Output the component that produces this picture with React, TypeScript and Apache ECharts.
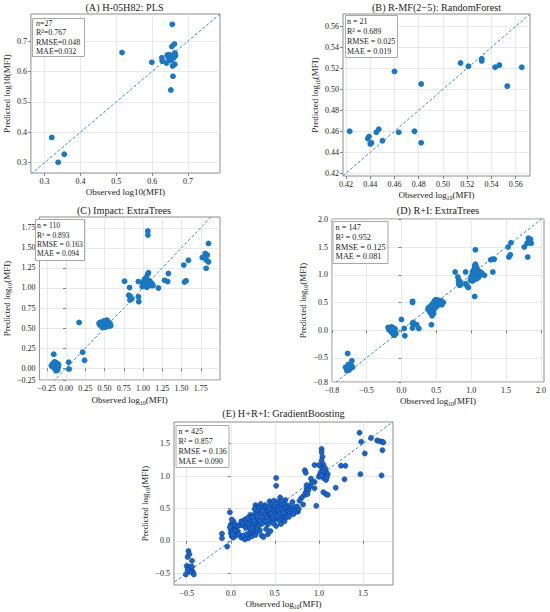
import React, { useEffect, useRef } from "react";
import * as echarts from "echarts";

// ---------- DATA ----------
const A_POINTS: number[][] = [
  [0.320, 0.383], [0.338, 0.301], [0.355, 0.328], [0.516, 0.662], [0.599, 0.630], [0.656, 0.755],
  [0.662, 0.690], [0.655, 0.682], [0.627, 0.645], [0.628, 0.634], [0.642, 0.654], [0.648, 0.655],
  [0.640, 0.628], [0.653, 0.643], [0.651, 0.636], [0.659, 0.654], [0.663, 0.661], [0.660, 0.645],
  [0.657, 0.618], [0.663, 0.624], [0.658, 0.584], [0.652, 0.539], [0.665, 0.652], [0.656, 0.650],
  [0.645, 0.646], [0.664, 0.657], [0.655, 0.640],
];
const B_POINTS: number[][] = [
  [0.423, 0.460], [0.438, 0.453], [0.439, 0.455], [0.440, 0.448], [0.441, 0.449], [0.445, 0.459],
  [0.447, 0.462], [0.450, 0.451], [0.4635, 0.459], [0.4765, 0.460], [0.482, 0.449], [0.482, 0.505],
  [0.460, 0.517], [0.5145, 0.525], [0.521, 0.522], [0.532, 0.529], [0.532, 0.527], [0.543, 0.521],
  [0.5465, 0.523], [0.553, 0.503], [0.565, 0.521],
];
const C_POINTS: number[][] = [
  [1.063, 1.71], [1.063, 1.66], [1.85, 1.555], [1.81, 1.43], [1.835, 1.41], [1.77, 1.38], [1.82, 1.35],
  [1.85, 1.325], [1.82, 1.245], [1.53, 1.285], [1.59, 1.345], [1.54, 1.075], [1.56, 1.09], [1.33, 1.18],
  [1.28, 1.095], [1.32, 1.08], [1.20, 1.00], [1.13, 1.03], [0.76, 1.085], [0.825, 1.005], [0.815, 0.91],
  [0.833, 0.896], [0.854, 0.866], [0.83, 0.85], [0.94, 0.89], [0.945, 0.83], [0.94, 1.08], [0.17, 0.57],
  [0.215, 0.20], [0.24, 0.10], [0.035, 0.075], [0.04, -0.01], [-0.16, 0.175],
  // lower-left cluster
  [-0.18, 0.04], [-0.17, 0.03], [-0.16, 0.05], [-0.15, 0.02], [-0.14, 0.06], [-0.13, 0.04], [-0.12, 0.03],
  [-0.11, 0.05], [-0.15, 0.08], [-0.13, 0.07], [-0.12, 0.00], [-0.14, -0.01], [-0.16, 0.01], [-0.10, 0.02],
  [-0.11, -0.02], [-0.13, -0.03], [-0.17, 0.06], [-0.19, 0.03], [-0.12, 0.06], [-0.14, 0.02], [-0.10, 0.05],
  [-0.15, 0.00],
  // middle cluster
  [0.43, 0.56], [0.44, 0.54], [0.45, 0.57], [0.46, 0.53], [0.47, 0.55], [0.48, 0.52], [0.48, 0.57],
  [0.49, 0.54], [0.50, 0.56], [0.50, 0.53], [0.51, 0.58], [0.51, 0.55], [0.52, 0.52], [0.52, 0.56],
  [0.53, 0.60], [0.53, 0.54], [0.54, 0.57], [0.55, 0.55], [0.56, 0.53], [0.57, 0.56], [0.58, 0.53],
  [0.46, 0.56], [0.47, 0.51], [0.49, 0.59], [0.54, 0.52], [0.55, 0.58], [0.44, 0.57], [0.50, 0.51],
  // upper cluster
  [1.00, 1.05], [1.01, 1.03], [1.02, 1.07], [1.03, 1.04], [1.03, 1.09], [1.04, 1.06], [1.04, 1.02],
  [1.05, 1.08], [1.05, 1.04], [1.06, 1.06], [1.06, 1.10], [1.07, 1.03], [1.07, 1.07], [1.08, 1.05],
  [1.08, 1.09], [1.09, 1.04], [1.10, 1.06], [1.11, 1.03], [1.02, 1.11], [1.06, 1.17], [1.07, 1.19],
  [1.04, 1.13], [1.12, 1.05], [0.99, 1.02], [1.05, 1.01], [1.09, 1.08], [1.01, 1.08],
];
const D_POINTS: number[][] = [
  // lower-left
  [-0.77, -0.42], [-0.80, -0.67], [-0.78, -0.70], [-0.77, -0.65], [-0.76, -0.68], [-0.75, -0.72],
  [-0.74, -0.66], [-0.73, -0.69], [-0.72, -0.63], [-0.71, -0.55], [-0.70, -0.67], [-0.78, -0.73],
  [-0.76, -0.62],
  // near zero
  [-0.19, 0.05], [-0.16, 0.03], [-0.14, 0.01], [-0.12, 0.04], [-0.15, -0.02], [-0.13, -0.05],
  [-0.10, -0.01], [-0.11, -0.08], [-0.17, 0.00], [-0.09, 0.02], [-0.12, -0.04], [-0.14, 0.06],
  [-0.08, -0.06], [-0.18, 0.02], [-0.11, 0.03], [-0.13, -0.02], [-0.10, -0.09], [-0.15, 0.04],
  [0.00, 0.195], [0.04, 0.03], [0.05, -0.10], [0.16, 0.50], [0.16, 0.52], [0.17, 0.14], [0.22, 0.10],
  [0.25, 0.03], [0.16, 0.04], [0.16, 0.12],
  // middle
  [0.43, 0.10], [0.38, 0.38], [0.40, 0.35], [0.41, 0.42], [0.42, 0.31], [0.43, 0.45], [0.44, 0.38],
  [0.45, 0.33], [0.45, 0.48], [0.46, 0.41], [0.47, 0.52], [0.48, 0.45], [0.48, 0.50], [0.49, 0.55],
  [0.50, 0.47], [0.50, 0.52], [0.51, 0.43], [0.52, 0.50], [0.53, 0.54], [0.54, 0.48], [0.55, 0.52],
  [0.56, 0.50], [0.58, 0.46], [0.60, 0.50], [0.44, 0.26], [0.42, 0.36], [0.47, 0.38], [0.39, 0.41],
  [0.52, 0.46], [0.46, 0.30], [0.57, 0.53], [0.49, 0.49], [0.51, 0.54], [0.45, 0.44], [0.53, 0.49],
  [0.41, 0.33],
  // upper
  [0.77, 1.05], [0.81, 0.96], [0.82, 0.90], [0.82, 0.84], [0.83, 0.81], [0.85, 0.82], [0.84, 0.88],
  [0.92, 1.05], [0.92, 0.84], [0.94, 0.80], [0.96, 0.77], [1.05, 0.61], [1.06, 1.45], [1.19, 0.99],
  [1.31, 1.05],
  [0.99, 0.90], [1.00, 0.93], [1.01, 0.96], [1.02, 0.89], [1.02, 1.00], [1.03, 0.94], [1.03, 1.04],
  [1.04, 0.97], [1.04, 1.08], [1.05, 0.92], [1.05, 1.01], [1.05, 1.12], [1.06, 0.95], [1.06, 1.05],
  [1.06, 1.19], [1.07, 0.99], [1.07, 1.15], [1.08, 0.93], [1.08, 1.02], [1.08, 1.09], [1.09, 0.97],
  [1.09, 1.04], [1.10, 1.00], [1.10, 1.06], [1.11, 0.96], [1.11, 1.03], [1.12, 0.99], [1.13, 1.05],
  [1.14, 1.01], [1.15, 1.03], [1.00, 0.97], [1.01, 0.91], [1.03, 0.99], [1.04, 1.02], [1.06, 0.98],
  [1.07, 1.07], [1.09, 1.10], [1.05, 1.16], [1.02, 1.06], [1.12, 1.04],
  // upper right
  [1.28, 1.27], [1.30, 1.28], [1.33, 1.28], [1.53, 1.50], [1.57, 1.58], [1.54, 1.32], [1.56, 1.36],
  [1.76, 1.50], [1.81, 1.58], [1.83, 1.60], [1.82, 1.66], [1.85, 1.64], [1.80, 1.57], [1.84, 1.58],
  [1.86, 1.57], [1.81, 1.32],
];
const E_POINTS: number[][] = [
  // lower-left
  [-0.48, -0.16], [-0.47, -0.21], [-0.49, -0.25], [-0.50, -0.39], [-0.47, -0.40], [-0.48, -0.44],
  [-0.45, -0.44], [-0.44, -0.31], [-0.43, -0.48], [-0.42, -0.52], [-0.51, -0.52], [-0.46, -0.48],
  [-0.44, -0.40], [-0.49, -0.45],
  // left group
  [-0.10, 0.11], [-0.10, 0.04], [-0.04, -0.09], [-0.01, 0.44], [0.00, 0.25], [0.01, 0.20], [0.02, 0.15],
  [0.03, 0.22], [0.00, 0.12], [0.04, 0.10], [0.05, 0.18], [0.02, 0.27], [0.06, 0.12], [0.01, 0.07],
  [0.03, 0.05], [0.07, 0.22], [0.05, 0.25], [0.08, 0.15], [0.00, 0.17], [0.04, 0.14], [-0.01, 0.21],
  [0.06, 0.08], [0.02, 0.10], [0.09, 0.10], [0.03, 0.30], [0.01, 0.33],
  [0.09, 0.24], [0.12, 0.24], [0.14, 0.24], [0.17, 0.23], [0.19, 0.24],
  [0.12, 0.05], [0.15, 0.04], [0.17, 0.06], [0.19, 0.08], [0.20, 0.04], [0.22, 0.10], [0.24, 0.07],
  [0.26, 0.12], [0.28, 0.09], [0.21, 0.12], [0.18, 0.10], [0.25, 0.15], [0.27, 0.18], [0.23, 0.16],
  [0.30, 0.14], [0.16, 0.02], [0.14, 0.08],
  [0.12, 0.30], [0.14, 0.27], [0.16, 0.33], [0.18, 0.29], [0.20, 0.26], [0.22, 0.32], [0.17, 0.20],
  [0.21, 0.20], [0.25, 0.26], [0.27, 0.33], [0.24, 0.20], [0.22, 0.40], [0.23, 0.36], [0.19, 0.35],
  [0.26, 0.38], [0.28, 0.30], [0.29, 0.24], [0.31, 0.29], [0.33, 0.16], [0.30, 0.20], [0.32, 0.24],
  [0.35, 0.08], [0.37, 0.06], [0.42, 0.10], [0.45, 0.15], [0.515, 0.23], [0.40, 0.18],
  [0.515, 0.97], [0.515, 0.85], [0.56, 0.67], [0.62, 0.63], [0.76, 0.45], [0.82, 0.56], [0.97, 0.54],
  [0.70, 0.60],
  // main cluster
  [0.44, 0.61], [0.49, 0.62], [0.53, 0.60], [0.58, 0.62],
  [0.28, 0.55], [0.34, 0.57], [0.39, 0.55], [0.45, 0.56], [0.51, 0.57], [0.57, 0.55], [0.62, 0.56],
  [0.66, 0.54], [0.30, 0.52],
  [0.27, 0.49], [0.32, 0.51], [0.36, 0.50], [0.40, 0.52], [0.43, 0.49], [0.47, 0.51], [0.52, 0.50],
  [0.55, 0.52], [0.60, 0.49], [0.64, 0.51], [0.68, 0.50], [0.72, 0.52], [0.75, 0.53],
  [0.31, 0.46], [0.34, 0.44], [0.38, 0.47], [0.42, 0.45], [0.45, 0.47], [0.49, 0.44], [0.53, 0.46],
  [0.57, 0.45], [0.61, 0.47], [0.65, 0.44], [0.69, 0.46], [0.73, 0.45], [0.77, 0.49],
  [0.27, 0.41], [0.30, 0.40], [0.35, 0.42], [0.39, 0.40], [0.43, 0.41], [0.47, 0.39], [0.51, 0.42],
  [0.55, 0.40], [0.59, 0.41], [0.63, 0.40], [0.67, 0.42], [0.71, 0.41],
  [0.25, 0.35], [0.31, 0.36], [0.36, 0.34], [0.41, 0.36], [0.46, 0.35], [0.50, 0.37], [0.54, 0.34],
  [0.58, 0.36], [0.62, 0.35], [0.66, 0.37],
  [0.26, 0.30], [0.33, 0.31], [0.38, 0.29], [0.44, 0.31], [0.49, 0.30], [0.56, 0.31], [0.61, 0.30],
  [0.35, 0.26], [0.42, 0.25], [0.48, 0.27], [0.57, 0.26],
  [0.40, 0.44], [0.44, 0.43], [0.48, 0.48], [0.50, 0.45], [0.52, 0.43], [0.46, 0.42], [0.54, 0.48],
  [0.56, 0.43], [0.42, 0.48], [0.38, 0.43], [0.58, 0.49], [0.60, 0.44], [0.36, 0.46], [0.44, 0.50],
  [0.50, 0.40], [0.62, 0.52], [0.48, 0.36], [0.53, 0.38],
  // upper right
  [0.83, 0.70], [0.85, 0.75], [0.86, 0.80], [0.88, 0.78], [0.90, 0.84], [0.84, 1.09], [0.85, 1.05],
  [0.86, 0.86], [0.95, 1.17], [0.95, 0.91], [0.95, 0.81], [0.80, 0.66], [0.78, 0.62], [0.87, 0.72],
  [0.92, 0.90], [0.91, 0.96],
  [1.03, 1.42], [1.03, 1.37], [1.04, 1.30], [1.03, 1.24], [1.05, 1.18], [1.02, 1.15], [1.00, 1.17],
  [1.01, 1.02], [1.04, 1.05], [1.06, 1.03], [1.07, 1.00], [1.05, 0.97], [1.08, 0.94], [1.06, 1.10],
  [1.04, 1.12], [1.08, 1.07], [1.10, 1.03], [1.00, 0.99], [1.09, 0.98], [1.02, 1.06], [1.05, 1.08],
  [1.07, 1.12], [1.03, 1.01],
  [1.05, 0.75], [1.08, 0.72], [1.10, 0.71], [1.19, 0.82], [1.25, 1.16], [1.30, 1.16], [1.29, 0.95],
  [1.46, 1.67], [1.48, 1.53], [1.52, 1.35], [1.47, 1.03], [1.59, 1.59], [1.66, 1.55], [1.69, 1.54],
  [1.72, 1.53], [1.72, 1.40], [1.71, 1.01], [1.73, 1.52],
];

const A_TICKS = [0.3, 0.4, 0.5, 0.6, 0.7];
const B_TICKS = [0.42, 0.44, 0.46, 0.48, 0.5, 0.52, 0.54, 0.56];
const C_TICKS = [-0.25, 0, 0.25, 0.5, 0.75, 1.0, 1.25, 1.5, 1.75];
const C_Y_TICKS = [0, 0.25, 0.5, 0.75, 1.0, 1.25, 1.5, 1.75];
const C_Y_EDGE_LABEL = "−0.25";
const D_TICKS = [-0.5, 0, 0.5, 1.0, 1.5, 2.0];
const D_EDGE_LABEL = "−0.8";
const E_TICKS = [-0.5, 0, 0.5, 1.0, 1.5];

const TITLES = [
  "(A) H-05H82: PLS",
  "(B) R-MF(2−5): RandomForest",
  "(C) Impact: ExtraTrees",
  "(D) R+I: ExtraTrees",
  "(E) H+R+I: GradientBoosting",
];
const STATS = [
  "{i|n}=27\nR²=0.767\nRMSE=0.048\nMAE=0.032",
  "n = 21\nR² = 0.689\nRMSE = 0.025\nMAE = 0.019",
  "n = 110\nR² = 0.893\nRMSE = 0.163\nMAE = 0.094",
  "n = 147\nR² = 0.952\nRMSE = 0.125\nMAE = 0.081",
  "n = 425\nR² = 0.857\nRMSE = 0.136\nMAE = 0.090",
];

// ---------- LAYOUT / STYLE ----------
const FONT = '"Liberation Serif", "DejaVu Serif", serif';
const TXT = "#222";

type Panel = {
  grid: { left: number; top: number; width: number; height: number };
  xr: [number, number];
  yr: [number, number];
  xt: number[];
  yt: number[];
  dec: number;
  xEdge?: string;
  yEdge?: string;
  sub: boolean;
  xGap: number;
  yGap: number;
  titleY: number;
  titleX?: number;
  stat: { left: number; top: number; fs: number; lh: number; pad: number[] };
  data: number[][];
  big?: boolean;
};

const PANELS: Panel[] = [
  {
    grid: { left: 29, top: 14, width: 191, height: 159 }, xr: [0.262, 0.789], yr: [0.266, 0.789],
    xt: A_TICKS, yt: A_TICKS, dec: 1, sub: false, xGap: 13, yGap: 16, titleY: 7.5,
    stat: { left: 32, top: 18, fs: 8, lh: 9.2, pad: [1, 4] }, data: A_POINTS,
  },
  {
    grid: { left: 343, top: 14, width: 187, height: 162 }, xr: [0.4175, 0.5718], yr: [0.4174, 0.5717],
    xt: B_TICKS, yt: B_TICKS, dec: 2, sub: true, xGap: 12, yGap: 20, titleY: 7.5,
    stat: { left: 345, top: 15, fs: 8, lh: 9.8, pad: [2, 2] }, data: B_POINTS,
  },
  {
    grid: { left: 33, top: 217, width: 187, height: 163 }, xr: [-0.346, 2.0], yr: [-0.146, 1.884],
    xt: C_TICKS, yt: C_Y_TICKS, dec: 2, yEdge: C_Y_EDGE_LABEL, sub: true, xGap: 14, yGap: 20,
    titleY: 210, titleX: 124,
    stat: { left: 35, top: 219, fs: 7.6, lh: 9.4, pad: [2, 2] }, data: C_POINTS,
  },
  {
    grid: { left: 332, top: 219, width: 212, height: 163 }, xr: [-0.994, 2.043], yr: [-0.935, 2.007],
    xt: D_TICKS, yt: D_TICKS, dec: 1, xEdge: D_EDGE_LABEL, yEdge: D_EDGE_LABEL, sub: true, xGap: 12,
    yGap: 23, titleY: 210,
    stat: { left: 332.5, top: 221, fs: 8.3, lh: 9.7, pad: [2, 3] }, data: D_POINTS,
  },
  {
    grid: { left: 174, top: 422, width: 219, height: 163 }, xr: [-0.644, 1.84], yr: [-0.684, 1.836],
    xt: E_TICKS, yt: E_TICKS, dec: 1, sub: true, xGap: 13, yGap: 23, titleY: 413.5,
    stat: { left: 176, top: 425, fs: 8, lh: 9.8, pad: [2, 2.5] }, data: E_POINTS, big: true,
  },
];

function fmt(v: number, dec: number) {
  const s = Math.abs(v).toFixed(dec);
  return (v < -1e-9 ? "−" : "") + s;
}

function makeAxis(i: number, p: Panel, isY: boolean) {
  const range = isY ? p.yr : p.xr;
  const ticks = isY ? p.yt : p.xt;
  const edge = isY ? p.yEdge : p.xEdge;
  const vals = edge ? [range[0], ...ticks] : ticks;
  const name = p.sub
    ? (isY ? "Predicted" : "Observed") + " log{s|10}(MFI)"
    : (isY ? "Predicted" : "Observed") + " log10(MFI)";
  return {
    type: "value",
    gridIndex: i,
    min: range[0],
    max: range[1],
    name,
    nameLocation: "middle",
    nameGap: isY ? p.yGap : p.xGap,
    nameTextStyle: {
      fontFamily: FONT,
      fontSize: 9,
      color: TXT,
      lineHeight: 12,
      rich: {
        s: { fontFamily: FONT, fontSize: 6, lineHeight: 6, verticalAlign: "bottom", color: TXT },
      },
    },
    axisLine: { show: false },
    axisTick: {
      show: true,
      length: 3,
      customValues: vals,
      lineStyle: { color: "#666", width: 0.8 },
    },
    axisLabel: {
      show: true,
      customValues: vals,
      fontFamily: FONT,
      fontSize: 8,
      color: TXT,
      margin: 4,
      formatter: (v: number) =>
        edge && Math.abs(v - range[0]) < 1e-9 ? edge : fmt(v, p.dec),
    },
    splitLine: { show: true, lineStyle: { color: "#e0e0e0", width: 0.7 } },
  };
}

function buildOption() {
  const grid = PANELS.map((p) => ({
    ...p.grid,
    show: true,
    borderColor: "#8c8c8c",
    borderWidth: 1,
    backgroundColor: "#ffffff",
    containLabel: false,
  }));
  const xAxis = PANELS.map((p, i) => makeAxis(i, p, false));
  const yAxis = PANELS.map((p, i) => makeAxis(i, p, true));
  const series: any[] = [];
  PANELS.forEach((p, i) => {
    const lo = Math.min(p.xr[0], p.yr[0]);
    const hi = Math.max(p.xr[1], p.yr[1]);
    series.push({
      type: "line",
      xAxisIndex: i,
      yAxisIndex: i,
      data: [[lo, lo], [hi, hi]],
      showSymbol: false,
      symbol: "none",
      clip: true,
      silent: true,
      z: 1,
      lineStyle: { color: "#3d91d6", width: 1, type: [3, 2] },
    });
    series.push({
      type: "scatter",
      xAxisIndex: i,
      yAxisIndex: i,
      data: p.data,
      symbolSize: p.big ? 5.2 : 5.8,
      z: 3,
      itemStyle: p.big
        ? { color: "#1a64cc", borderColor: "#0d3a7c", borderWidth: 0.5, opacity: 1 }
        : { color: "#1a78c2", opacity: 1 },
    });
  });
  const title: any[] = PANELS.map((p, i) => ({
    left: p.stat.left,
    top: p.stat.top,
    text: STATS[i],
    padding: p.stat.pad,
    backgroundColor: "#ffffff",
    borderColor: "#a8a8a8",
    borderWidth: 1,
    textStyle: {
      fontFamily: FONT,
      fontSize: p.stat.fs,
      fontWeight: "normal",
      color: TXT,
      lineHeight: p.stat.lh,
      rich: {
        i: { fontFamily: FONT, fontStyle: "italic", fontSize: p.stat.fs, lineHeight: p.stat.lh, color: TXT },
      },
    },
  }));
  const graphic = PANELS.map((p, i) => ({
    type: "text",
    x: p.titleX ?? p.grid.left + p.grid.width / 2,
    y: p.titleY,
    style: {
      text: TITLES[i],
      textAlign: "center",
      textVerticalAlign: "middle",
      fontFamily: FONT,
      fontSize: 10.2,
      fill: TXT,
    },
  }));
  return {
    animation: false,
    backgroundColor: "#ffffff",
    grid,
    xAxis,
    yAxis,
    series,
    title,
    graphic,
  };
}

export default function App() {
  const ref = useRef<HTMLDivElement>(null);
  useEffect(() => {
    if (!ref.current) return;
    const chart = echarts.init(ref.current, undefined, { renderer: "svg" });
    chart.setOption(buildOption() as any);
    return () => chart.dispose();
  }, []);
  return (
    <div
      ref={ref}
      style={{ position: "fixed", left: 0, top: 0, width: 550, height: 612, background: "#fff" }}
    />
  );
}
